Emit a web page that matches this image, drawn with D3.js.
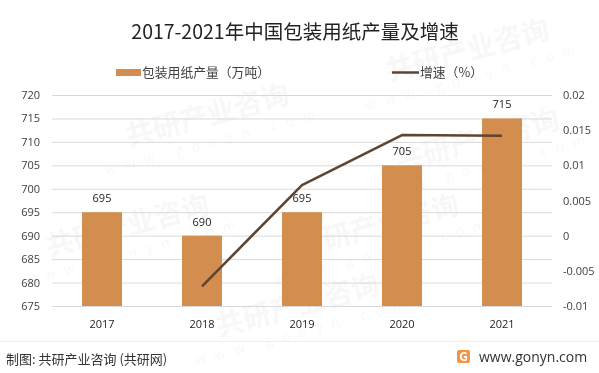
<!DOCTYPE html>
<html>
<head>
<meta charset="utf-8">
<script src="https://cdn.jsdelivr.net/npm/d3@7"></script>
<style>
  body { margin: 0; background: #fff; }
  svg { display: block; font-family: "Noto Sans CJK SC", "Open Sans", sans-serif; }
</style>
</head>
<body>
<div id="chart"></div>
<script>
const years = ["2017", "2018", "2019", "2020", "2021"];
const output = [695, 690, 695, 705, 715];
const growth = [null, -0.0072, 0.0072, 0.0143, 0.0142];
const leftTicks = [675, 680, 685, 690, 695, 700, 705, 710, 715, 720];
const rightTicks = [-0.01, -0.005, 0, 0.005, 0.01, 0.015, 0.02];

const width = 599, height = 373;
const barColor = "#d38d4f", lineColor = "#5e4431", gridColor = "#d9d9d9", textColor = "#404040";
const plot = { left: 52, right: 552, top: 95, bottom: 306 };

const svg = d3.select("#chart").append("svg")
  .attr("width", width)
  .attr("height", height);

// faint watermark
const wm = svg.append("g").attr("fill", "#000").attr("opacity", 0.035);
[[210, 125], [470, 60], [130, 235], [380, 235], [480, 150], [300, 315]].forEach(([x, y]) => {
  const g = wm.append("g").attr("transform", `translate(${x},${y}) rotate(-15)`);
  g.append("text").attr("text-anchor", "middle").attr("font-size", 28).attr("font-weight", "bold").text("共研产业咨询");
  g.append("text").attr("text-anchor", "middle").attr("y", 22).attr("font-size", 14).attr("letter-spacing", 9).text("www.gonyn.com");
});

const x = d3.scaleBand().domain(years).range([plot.left, plot.right]);
const yL = d3.scaleLinear().domain([675, 720]).range([plot.bottom, plot.top]);
const yR = d3.scaleLinear().domain([-0.01, 0.02]).range([plot.bottom, plot.top]);

// title
svg.append("text")
  .attr("x", 295).attr("y", 39)
  .attr("text-anchor", "middle")
  .attr("font-size", 19.5)
  .attr("fill", "#222")
  .text("2017-2021年中国包装用纸产量及增速");

// legend
const legend = svg.append("g").attr("font-size", 12.8).attr("fill", textColor);
legend.append("rect").attr("x", 116).attr("y", 69).attr("width", 25).attr("height", 7).attr("fill", barColor);
legend.append("text").attr("x", 142).attr("y", 77).text("包装用纸产量（万吨）");
legend.append("line").attr("x1", 392).attr("x2", 419).attr("y1", 72.5).attr("y2", 72.5)
  .attr("stroke", lineColor).attr("stroke-width", 2.5);
legend.append("text").attr("x", 420).attr("y", 77).text("增速（%）");

// grid
svg.append("g")
  .selectAll("line")
  .data(leftTicks)
  .join("line")
  .attr("x1", plot.left).attr("x2", plot.right)
  .attr("y1", d => yL(d) + 0.5).attr("y2", d => yL(d) + 0.5)
  .attr("stroke", gridColor);

// left axis
const axisL = svg.append("g")
  .attr("transform", `translate(${plot.left},0)`)
  .call(d3.axisLeft(yL).tickValues(leftTicks).tickSize(0).tickPadding(12));
axisL.select(".domain").remove();
axisL.selectAll("text").attr("font-size", 11).attr("fill", textColor).attr("font-family", "Open Sans, sans-serif");

// right axis
const axisR = svg.append("g")
  .attr("transform", `translate(${plot.right},0)`)
  .call(d3.axisRight(yR).tickValues(rightTicks).tickSize(0).tickPadding(11)
    .tickFormat(d => String(+d.toFixed(3))));
axisR.select(".domain").remove();
axisR.selectAll("text").attr("font-size", 11).attr("fill", textColor).attr("font-family", "Open Sans, sans-serif");

// x axis
const axisX = svg.append("g")
  .attr("transform", `translate(0,${plot.bottom})`)
  .call(d3.axisBottom(x).tickSize(0).tickPadding(14));
axisX.select(".domain").remove();
axisX.selectAll("text").attr("font-size", 11).attr("fill", "#222").attr("font-family", "Open Sans, sans-serif");

// bars
const barW = 40;
svg.append("g")
  .selectAll("rect")
  .data(output)
  .join("rect")
  .attr("x", (d, i) => x(years[i]) + x.bandwidth() / 2 - barW / 2)
  .attr("y", d => yL(d))
  .attr("width", barW)
  .attr("height", d => plot.bottom - yL(d))
  .attr("fill", barColor);

svg.append("g")
  .selectAll("text")
  .data(output)
  .join("text")
  .attr("x", (d, i) => x(years[i]) + x.bandwidth() / 2)
  .attr("y", d => yL(d) - 10)
  .attr("text-anchor", "middle")
  .attr("font-size", 11)
  .attr("fill", "#222")
  .attr("font-family", "Open Sans, sans-serif")
  .text(d => d);

// growth line
const line = d3.line()
  .defined(d => d != null)
  .x((d, i) => x(years[i]) + x.bandwidth() / 2)
  .y(d => yR(d));

svg.append("path")
  .datum(growth)
  .attr("d", line)
  .attr("fill", "none")
  .attr("stroke", lineColor)
  .attr("stroke-width", 2.5)
  .attr("stroke-linejoin", "round");

// footer
svg.append("line")
  .attr("x1", 0).attr("x2", width)
  .attr("y1", 341.5).attr("y2", 341.5)
  .attr("stroke", "#eee");

svg.append("text")
  .attr("x", 6).attr("y", 364)
  .attr("font-size", 13)
  .attr("fill", "#333")
  .text("制图: 共研产业咨询 (共研网)");

const logo = svg.append("g").attr("transform", "translate(457,350)");
logo.append("rect").attr("width", 13).attr("height", 13).attr("rx", 2).attr("fill", "#f0964a");
logo.append("text").attr("x", 6.5).attr("y", 11).attr("text-anchor", "middle")
  .attr("font-size", 12).attr("font-weight", "bold").attr("fill", "#fff").text("G");

svg.append("text")
  .attr("x", 479).attr("y", 362)
  .attr("font-size", 14)
  .attr("fill", "#333")
  .attr("font-family", "Open Sans, sans-serif")
  .text("www.gonyn.com");
</script>
</body>
</html>
